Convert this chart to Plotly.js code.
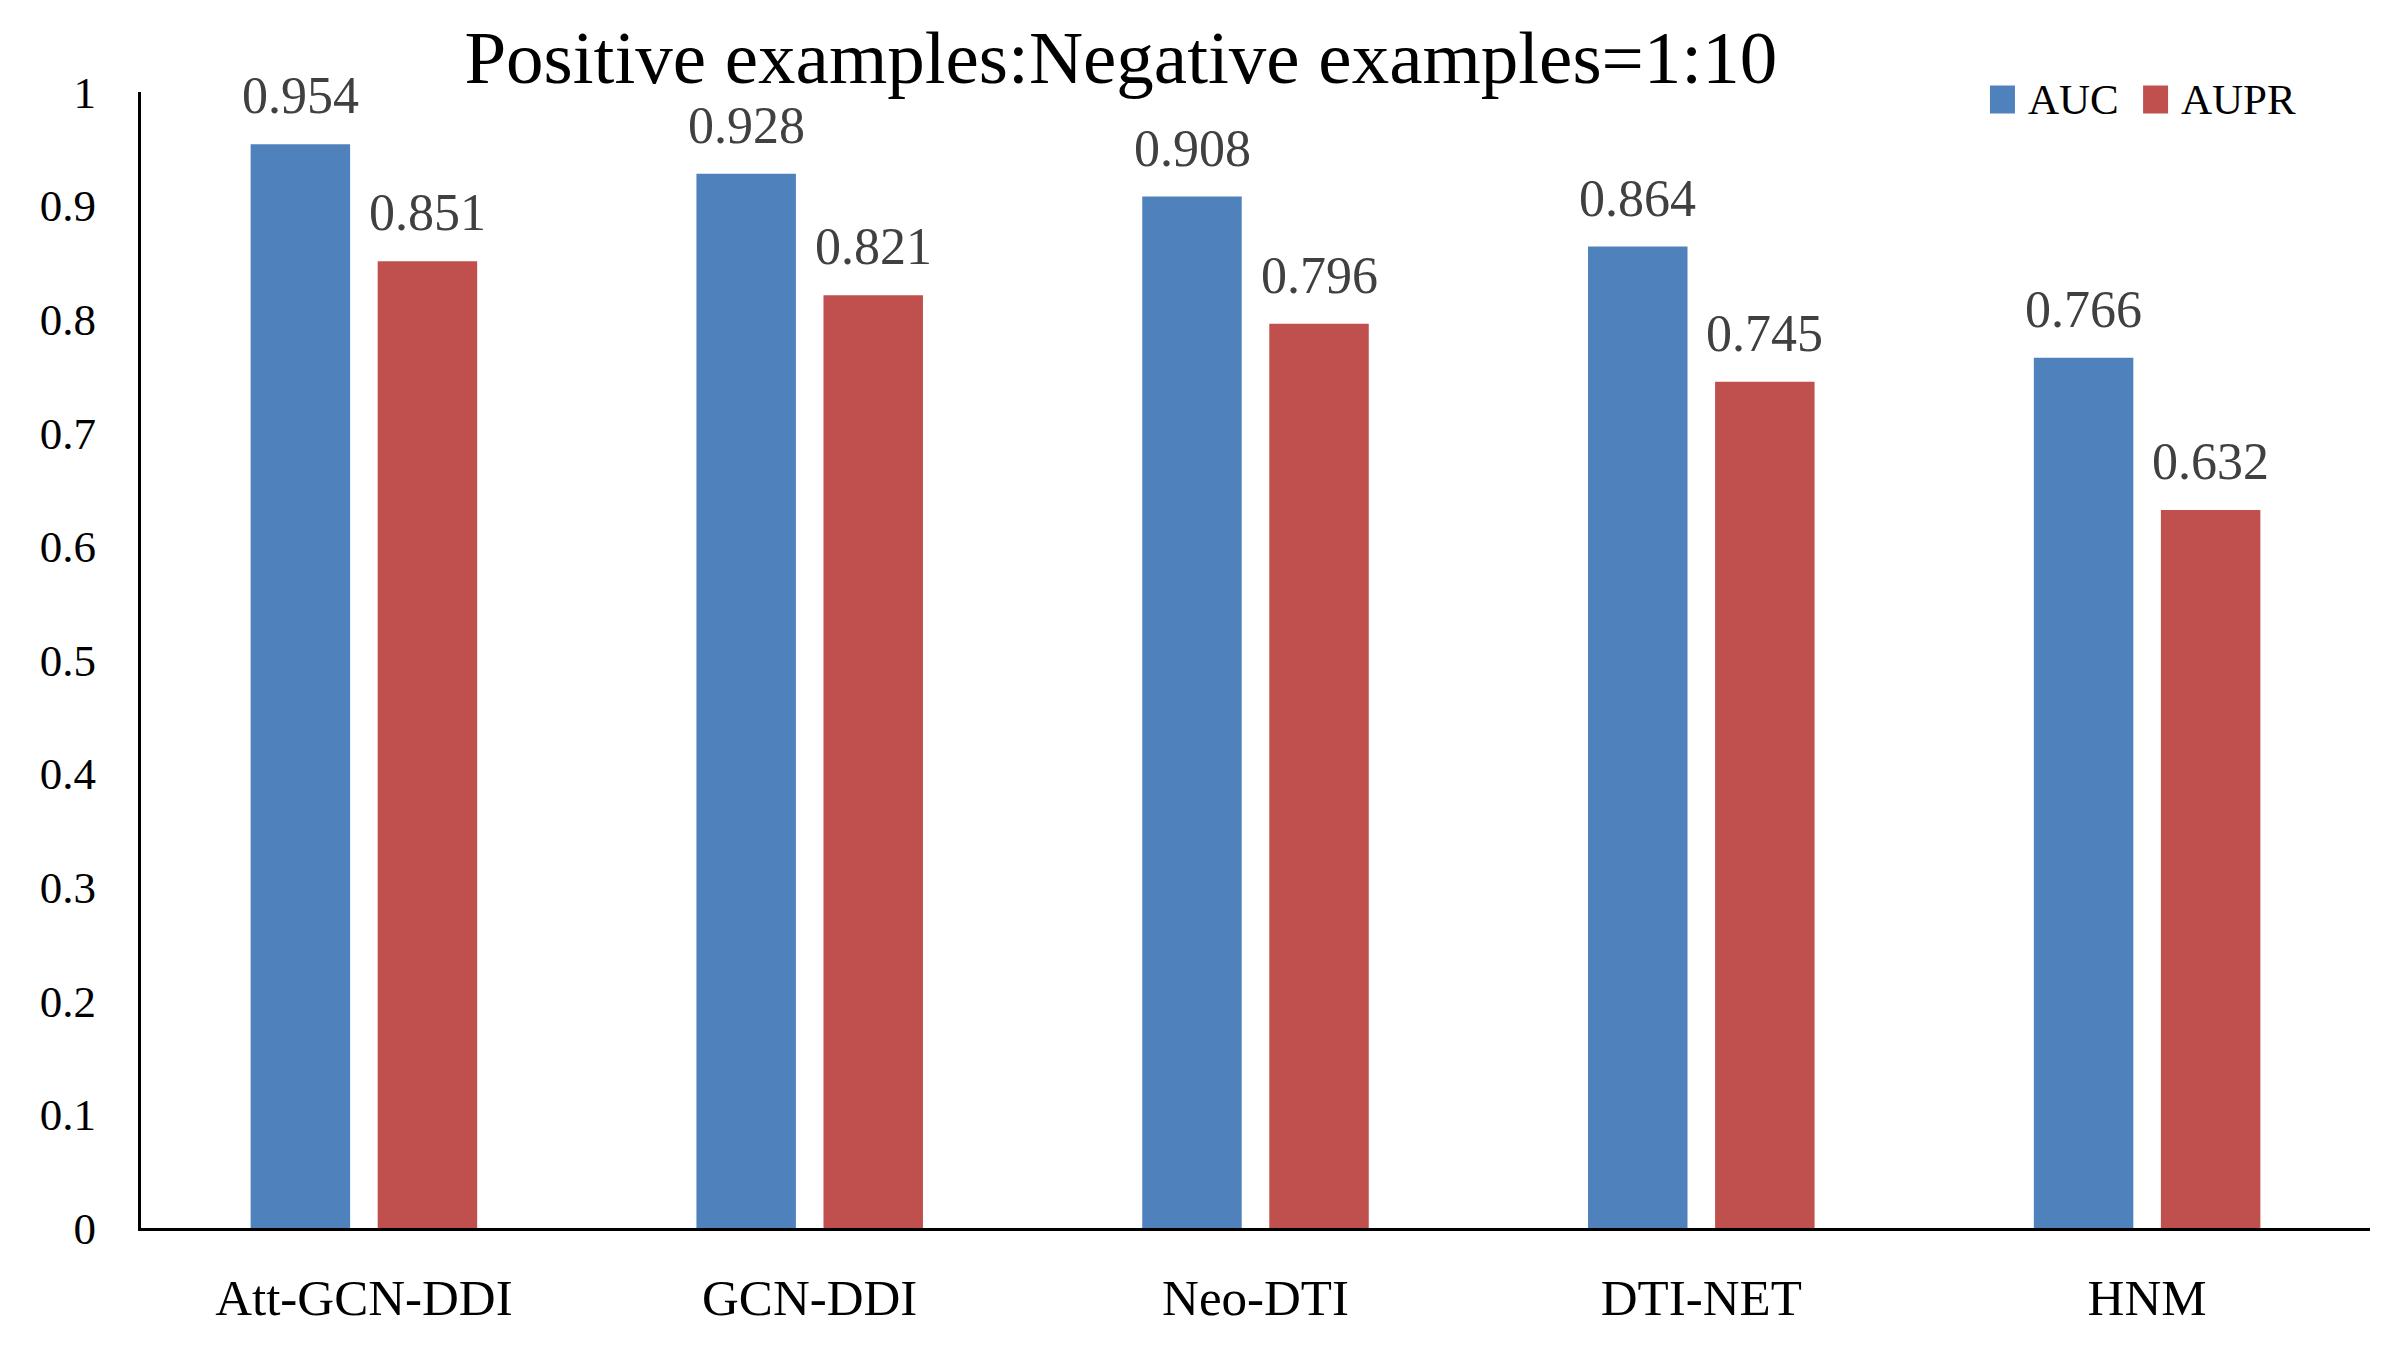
<!DOCTYPE html>
<html>
<head>
<meta charset="utf-8">
<script src="https://cdn.plot.ly/plotly-3.0.1.min.js"></script>
<style>html,body{margin:0;padding:0;background:#fff;}#chart{width:2400px;height:1349px;}</style>
</head>
<body>
<div id="chart"></div>
<script>
const categories = ["Att-GCN-DDI", "GCN-DDI", "Neo-DTI", "DTI-NET", "HNM"];
const aucValues = [0.954, 0.928, 0.908, 0.864, 0.766];
const auprValues = [0.851, 0.821, 0.796, 0.745, 0.632];
const seriesNames = ["AUC", "AUPR"];
const seriesColors = ["#4F81BD", "#C0504D"];
const yTickValues = [0, 0.1, 0.2, 0.3, 0.4, 0.5, 0.6, 0.7, 0.8, 0.9, 1];
const yTickLabels = ["0", "0.1", "0.2", "0.3", "0.4", "0.5", "0.6", "0.7", "0.8", "0.9", "1"];

const serif = "Liberation Serif, DejaVu Serif, serif";
const fmt = v => v.toFixed(3);
const seriesValues = [aucValues, auprValues];

const traces = seriesValues.map((vals, i) => ({
  type: "bar", name: seriesNames[i], x: categories, y: vals,
  marker: {color: seriesColors[i]}, showlegend: false, hoverinfo: "x+y"
}));

const slotHalf = 63.5; // pixel offset of each bar centre from its category centre
const annotations = [];
seriesValues.forEach((vals, i) => {
  vals.forEach((v, j) => {
    annotations.push({x: categories[j], y: v, xref: "x", yref: "y", text: fmt(v), showarrow: false,
      xanchor: "center", yanchor: "bottom", xshift: (i === 0 ? -1 : 1) * slotHalf, yshift: 18,
      font: {family: serif, size: 52, color: "#404040"}});
  });
});

// manual legend (larger swatches than Plotly's built-in legend allows)
const legendY = 0.9934;
const swatchX = [0.8295, 0.8982];
const labelX = [0.8457, 0.9143];
const shapes = [];
seriesNames.forEach((name, i) => {
  shapes.push({type: "rect", xref: "paper", yref: "paper", xsizemode: "pixel", ysizemode: "pixel",
    xanchor: swatchX[i], yanchor: legendY, x0: 0, x1: 25, y0: -14, y1: 14,
    fillcolor: seriesColors[i], line: {width: 0}});
  annotations.push({x: labelX[i], y: legendY, xref: "paper", yref: "paper", text: name, showarrow: false,
    xanchor: "left", yanchor: "middle", font: {family: serif, size: 43, color: "#000"}});
});

const layout = {
  width: 2400, height: 1349,
  paper_bgcolor: "#fff", plot_bgcolor: "#fff",
  margin: {l: 141, r: 30, t: 92, b: 121},
  font: {family: serif, color: "#000"},
  title: {text: "Positive examples:Negative examples=1:10", font: {family: serif, size: 75, color: "#000"},
          x: 0.467, xref: "container", xanchor: "center", y: 0.958, yref: "container", yanchor: "middle"},
  barmode: "group", bargap: 0.43, bargroupgap: 0.217,
  xaxis: {type: "category", showline: true, linecolor: "#000", linewidth: 3, showgrid: false, zeroline: false,
          ticks: "", tickfont: {family: serif, size: 51, color: "#000"}, ticklabelstandoff: 23},
  yaxis: {range: [0, 1], tickvals: yTickValues, ticktext: yTickLabels, showline: true, linecolor: "#000", linewidth: 3,
          showgrid: false, zeroline: false, ticks: "", tickfont: {family: serif, size: 45, color: "#000"}, ticklabelstandoff: 33},
  annotations: annotations,
  shapes: shapes,
  showlegend: false
};

Plotly.newPlot("chart", traces, layout, {displayModeBar: false, staticPlot: true});
</script>
</body>
</html>
